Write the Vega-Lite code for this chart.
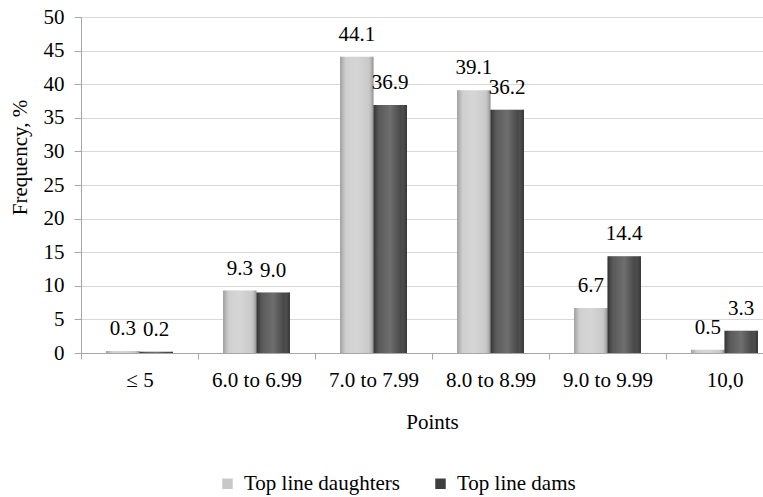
{
  "$schema": "https://vega.github.io/schema/vega-lite/v6.json",
  "autosize": "none",
  "width": 682,
  "height": 336,
  "padding": {"left": 81, "top": 17, "right": 0, "bottom": 144},
  "background": "white",
  "config": {
    "font": "Times New Roman",
    "view": {"stroke": null},
    "text": {"font": "Times New Roman"},
    "axis": {"labelFont": "Times New Roman", "titleFont": "Times New Roman", "labelColor": "#000", "titleColor": "#000", "titleFontWeight": "normal"},
    "legend": {"labelFont": "Times New Roman", "labelColor": "#000"}
  },
  "data": {
    "values": [
      {"points": "≤ 5", "group": "Top line daughters", "freq": 0.3},
      {"points": "≤ 5", "group": "Top line dams", "freq": 0.2},
      {"points": "6.0 to 6.99", "group": "Top line daughters", "freq": 9.3},
      {"points": "6.0 to 6.99", "group": "Top line dams", "freq": 9.0},
      {"points": "7.0 to 7.99", "group": "Top line daughters", "freq": 44.1},
      {"points": "7.0 to 7.99", "group": "Top line dams", "freq": 36.9},
      {"points": "8.0 to 8.99", "group": "Top line daughters", "freq": 39.1},
      {"points": "8.0 to 8.99", "group": "Top line dams", "freq": 36.2},
      {"points": "9.0 to 9.99", "group": "Top line daughters", "freq": 6.7},
      {"points": "9.0 to 9.99", "group": "Top line dams", "freq": 14.4},
      {"points": "10,0", "group": "Top line daughters", "freq": 0.5},
      {"points": "10,0", "group": "Top line dams", "freq": 3.3}
    ]
  },
  "encoding": {
    "x": {
      "field": "points",
      "type": "nominal",
      "sort": null,
      "scale": {"range": [0, 702], "paddingInner": 0, "paddingOuter": 0},
      "axis": {
        "title": "Points",
        "titleFont": "Times New Roman",
        "labelFont": "Times New Roman",
        "titleFontSize": 21,
        "titlePadding": 21,
        "labelFontSize": 21,
        "labelAngle": 0,
        "labelPadding": 10,
        "tickBand": "extent",
        "tickSize": 6,
        "tickColor": "#a6a6a6",
        "domainColor": "#a6a6a6",
        "labelOverlap": false
      }
    },
    "xOffset": {
      "field": "group",
      "type": "nominal",
      "sort": ["Top line daughters", "Top line dams"],
      "scale": {"paddingInner": 0, "paddingOuter": 0.75}
    },
    "y": {
      "field": "freq",
      "type": "quantitative",
      "scale": {"domain": [0, 50], "nice": false},
      "axis": {
        "title": "Frequency, %",
        "titleFont": "Times New Roman",
        "labelFont": "Times New Roman",
        "titleFontSize": 21,
        "titleX": -61,
        "titleY": 140,
        "titleAngle": -90,
        "titleAlign": "center",
        "titleBaseline": "middle",
        "labelFontSize": 21,
        "labelPadding": 10,
        "values": [0, 5, 10, 15, 20, 25, 30, 35, 40, 45, 50],
        "tickSize": 7,
        "tickColor": "#a6a6a6",
        "domainColor": "#a6a6a6",
        "gridColor": "#d9d9d9",
        "grid": true
      }
    }
  },
  "layer": [
    {
      "mark": {"type": "bar"},
      "encoding": {
        "color": {
          "field": "group",
          "type": "nominal",
          "sort": ["Top line daughters", "Top line dams"],
          "scale": {"domain": ["Top line daughters", "Top line dams"], "range": ["#c8c8c8", "#3e3e3e"]},
          "legend": {
            "title": null,
            "orient": "none",
            "direction": "horizontal",
            "legendX": 136,
            "legendY": 456,
            "symbolType": "square",
            "symbolSize": 110,
            "symbolStrokeWidth": 0,
            "labelFont": "Times New Roman",
            "labelFontSize": 21,
            "labelOffset": 6,
            "columnPadding": 30
          }
        }
      }
    },
    {
      "mark": {
        "type": "bar",
        "fill": {
          "gradient": "linear",
          "x1": 0, "y1": 0, "x2": 1, "y2": 0,
          "stops": [
            {"offset": 0, "color": "rgba(0,0,0,0.22)"},
            {"offset": 0.18, "color": "rgba(255,255,255,0.15)"},
            {"offset": 0.5, "color": "rgba(255,255,255,0.25)"},
            {"offset": 0.82, "color": "rgba(255,255,255,0.05)"},
            {"offset": 1, "color": "rgba(0,0,0,0.3)"}
          ]
        }
      }
    },
    {
      "mark": {"type": "text", "fontSize": 21, "baseline": "alphabetic", "dy": -16, "color": "#000", "font": "Times New Roman"},
      "encoding": {
        "text": {"field": "freq", "type": "quantitative", "format": ".1f"}
      }
    }
  ]
}
